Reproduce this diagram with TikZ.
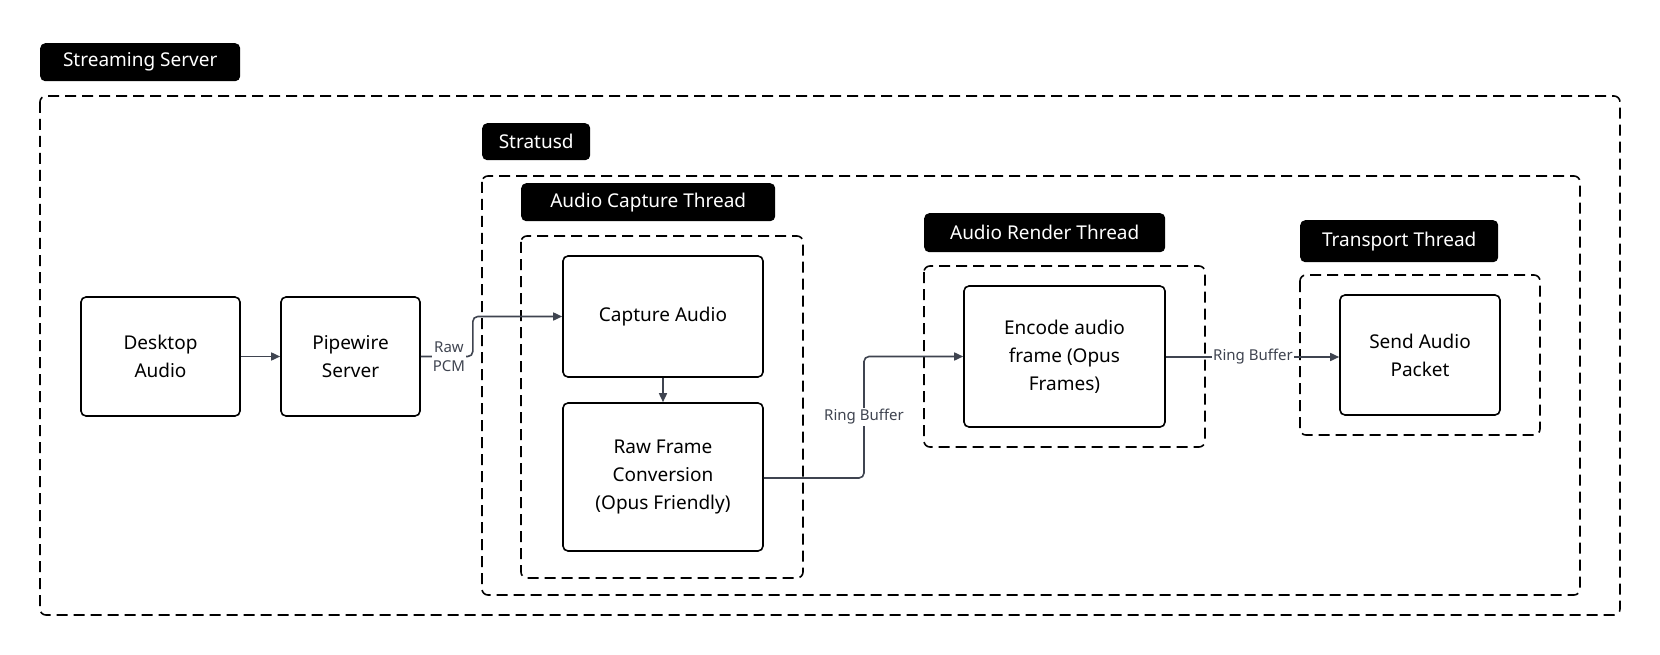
\documentclass[tikz,border=0pt]{standalone}
\usepackage{fontspec}
\setmainfont{Noto Sans}
\usetikzlibrary{arrows.meta,positioning}
\definecolor{arrowgray}{HTML}{3F4450}
\begin{document}
\begin{tikzpicture}
[x=1pt,y=-1pt,
>={Triangle[length=9pt,width=8pt]},
box/.style={draw,line width=1.6pt,rounded corners=5pt,align=center,font=\fontsize{19}{28}\selectfont},
group/.style={draw,line width=1.6pt,dash pattern=on 11pt off 6pt,rounded corners=6pt},
tag/.style={fill=black,text=white,rounded corners=5pt,anchor=north west,inner sep=0pt,font=\fontsize{19}{23}\selectfont,align=center},
flow/.style={->,arrowgray,line width=1.6pt,rounded corners=5pt},
flowlabel/.style={font=\bfseries\fontsize{15}{19}\selectfont,text=arrowgray,fill=white,inner sep=1pt,align=center}]
  \useasboundingbox (0,0) rectangle (1660,655);
  % groups
  \draw [group] (40,96) rectangle (1620,615);
  \draw [group] (482,176) rectangle (1580,595);
  \draw [group] (521,236) rectangle (803,578);
  \draw [group] (924,266) rectangle (1205,447);
  \draw [group] (1300,275) rectangle (1540,435);
  % group tags
  \node [tag,minimum width=200pt,minimum height=38pt] (tserver) at (40,43) {Streaming Server};
  \node [tag,minimum width=108pt,minimum height=37pt] (tstratusd) at (482,123) {Stratusd};
  \node [tag,minimum width=254pt,minimum height=38pt] (tcapture) at (521,183) {Audio Capture Thread};
  \node [tag,minimum width=241pt,minimum height=39pt] (trender) at (924,213) {Audio Render Thread};
  \node [tag,minimum width=198pt,minimum height=42pt] (ttransport) at (1300,220) {Transport Thread};
  % steps
  \node [box,minimum width=159pt,minimum height=119pt] (desktop) at (160.5,356.5) {Desktop\\Audio};
  \node [box,minimum width=139pt,minimum height=119pt] (pipewire) at (350.5,356.5) {Pipewire\\Server};
  \node [box,minimum width=200pt,minimum height=121pt] (capture) at (663,316.5) {Capture Audio};
  \node [box,minimum width=200pt,minimum height=148pt] (convert) at (663,477) {Raw Frame\\Conversion\\(Opus Friendly)};
  \node [box,minimum width=201pt,minimum height=141pt] (encode) at (1064.5,356.5) {Encode audio\\frame (Opus\\Frames)};
  \node [box,minimum width=160pt,minimum height=120pt] (send) at (1420,355) {Send Audio\\Packet};
  % connectors
  \draw [flow] (desktop) -- (pipewire);
  \draw [flow] (pipewire.east) -- ++(52,0) |- (capture.west);
  \node [flowlabel] (lpcm) at (449,357) {Raw\\PCM};
  \draw [flow] (convert.east |- 0,478) -- (864,478) |- (encode.west);
  \node [flowlabel] (lring1) at (864,417) {Ring Buffer};
  \draw [flow] (capture) -- (convert);
  \draw [flow] (encode.east |- 0,357) -- (send.west |- 0,357);
  \node [flowlabel] (lring2) at (1253,357) {Ring Buffer};
\end{tikzpicture}
\end{document}
